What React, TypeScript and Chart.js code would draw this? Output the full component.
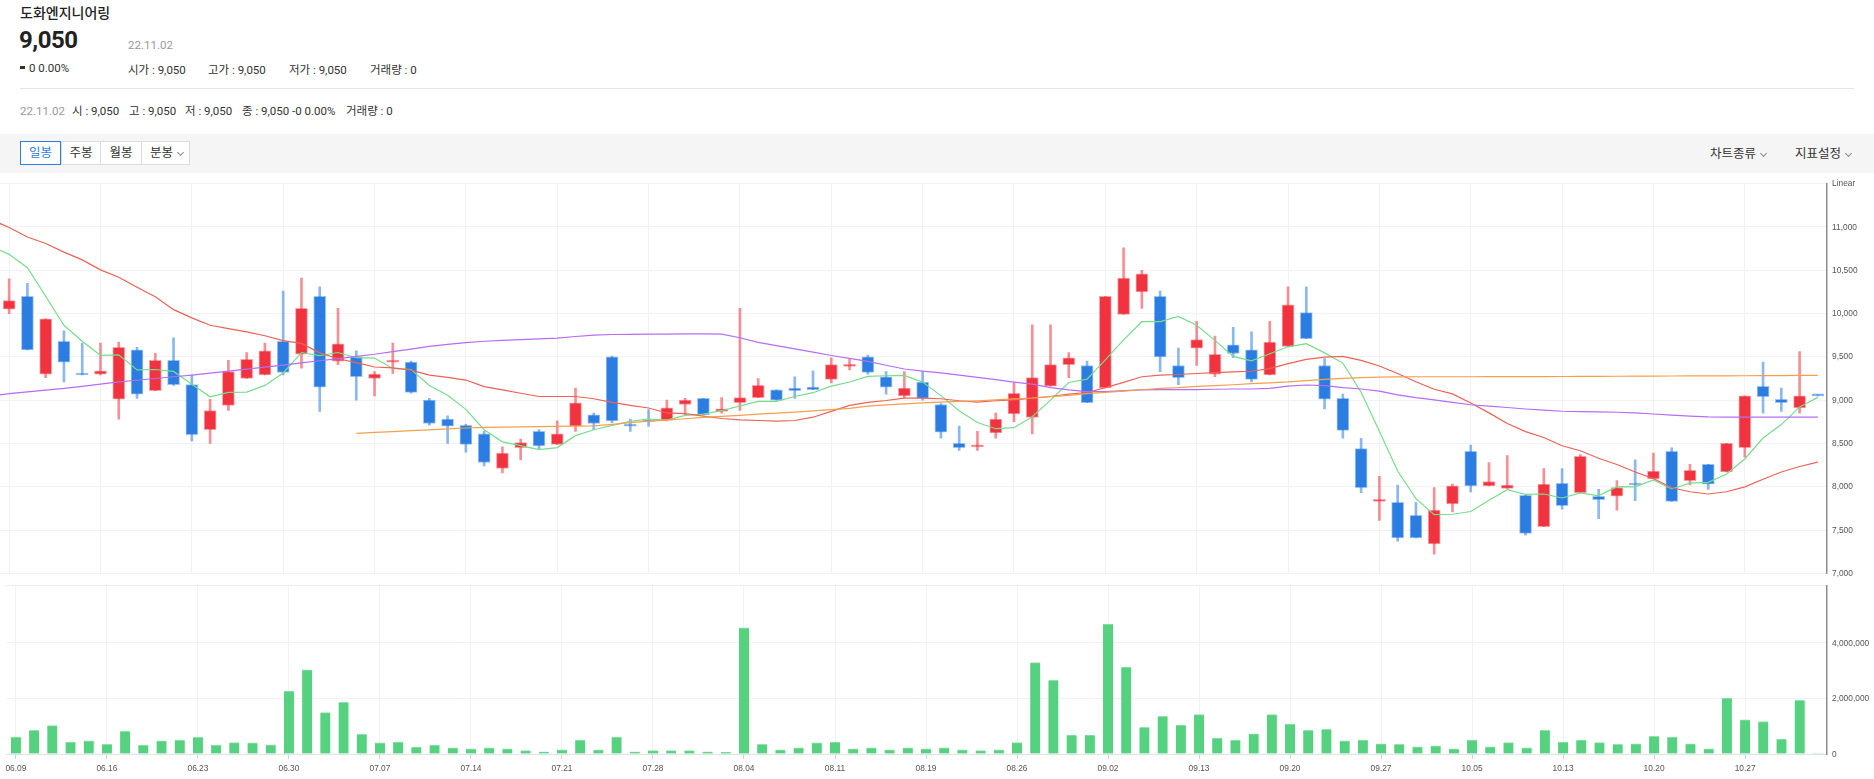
import React, { useEffect, useRef } from "react";
import { Chart, registerables } from "chart.js";
Chart.register(...registerables);

// ---- data ----
const tickLabels = ["06.09","06.16","06.23","06.30","07.07","07.14","07.21","07.28","08.04","08.11","08.19","08.26","09.02","09.13","09.20","09.27","10.05","10.13","10.20","10.27"];
const tickIndex = [0,5,10,15,20,25,30,35,40,45,50,55,60,65,70,75,80,85,90,95];

const open = [10050,10200,9300,9680,9300,9300,9010,9580,9110,9460,9180,8660,8940,9250,9290,9680,9530,10200,9450,9500,
9250,9440,9440,9000,8780,8710,8610,8210,8450,8640,8490,8700,8830,9500,8710,8770,8770,8950,9020,8870,
8970,9030,9120,9140,9150,9240,9390,9500,9270,9050,9210,8950,8500,8460,8620,8840,8800,9160,9410,9400,
9140,9990,10250,10200,9400,9600,9300,9640,9580,9290,9620,10010,9400,9020,8440,7830,7820,7670,7340,7800,
8410,8010,7980,7900,7540,8040,7930,7890,7890,8030,8090,8410,8070,8260,8170,8450,9160,9010,8910,9050];
const high = [10400,10350,9940,9800,9660,9660,9670,9610,9540,9720,9290,9010,9460,9550,9660,10260,10410,10310,10060,9570,
9330,9660,9450,9020,8820,8720,8640,8460,8550,8660,8760,9140,8850,9510,8780,8890,9000,9020,9020,9030,
10060,9250,9120,9270,9340,9490,9480,9520,9330,9330,9330,8960,8700,8640,8850,9200,9870,9870,9550,9450,
10200,10760,10500,10260,9600,9910,9740,9840,9790,9910,10310,10310,9480,9070,8560,8120,8020,7820,7990,8030,
8480,8280,8360,7900,8210,8210,8370,7970,8070,8310,8390,8450,8260,8260,8500,9050,9440,9140,9560,9050];
const low = [10000,9580,9260,9210,9290,9290,8780,9020,9110,9170,8530,8500,8880,9250,9290,9290,9370,8870,9410,9000,
9050,9310,9080,8710,8500,8400,8240,8160,8310,8440,8490,8640,8660,8740,8640,8700,8760,8830,8830,8850,
8880,9030,9000,9020,9120,9200,9350,9300,9070,9030,9000,8560,8420,8420,8560,8750,8610,9160,9260,8970,
9140,9990,10060,9330,9180,9400,9270,9490,9210,9290,9620,9710,8900,8560,7930,7610,7370,7410,7220,7710,
7940,8010,7980,7440,7540,7740,7930,7630,7730,7840,8090,7830,8020,7970,8170,8340,8850,8870,8850,9050];
const close = [10150,9580,9940,9440,9290,9340,9610,9070,9460,9180,8600,8880,9330,9470,9570,9320,10060,9150,9650,9270,
9300,9460,9090,8730,8700,8490,8280,8390,8510,8470,8610,8970,8730,8760,8700,8750,8910,9000,8830,8900,
9030,9170,9000,9110,9120,9410,9410,9320,9150,9140,9020,8630,8450,8470,8780,9080,9260,9410,9490,8970,
10200,10410,10460,9500,9260,9700,9530,9540,9240,9670,10100,9710,9010,8650,7990,7850,7410,7410,7730,8010,
8010,8060,8020,7460,8030,7780,8350,7850,7990,8020,8180,7830,8190,8030,8500,9050,9040,8970,9050,9050];
const volume = [610000,850000,1020000,430000,470000,350000,820000,320000,470000,500000,600000,320000,410000,400000,330000,2270000,3030000,1490000,1860000,710000,
400000,430000,250000,320000,220000,190000,220000,190000,120000,80000,150000,500000,150000,610000,80000,120000,120000,120000,80000,60000,
4540000,350000,150000,220000,400000,430000,190000,220000,150000,220000,190000,220000,150000,120000,150000,410000,3290000,2650000,680000,680000,
4680000,3130000,960000,1360000,1040000,1420000,570000,500000,730000,1420000,1080000,850000,890000,470000,500000,370000,350000,260000,290000,190000,
500000,260000,410000,220000,850000,430000,500000,410000,350000,370000,640000,610000,370000,190000,2010000,1230000,1170000,540000,1930000,0];

// moving averages: first value belongs to the previous trading day (06.08)
const ma5 = [10775,10684,10530,10200,9865,9680,9518,9524,9350,9354,9332,9184,9038,9090,9092,9170,9314,9550,9514,9550,9490,
9486,9366,9354,9170,9056,8894,8658,8518,8474,8428,8452,8590,8658,8708,8754,8782,8770,8824,8838,8878,
8934,8986,8986,9042,9086,9162,9210,9274,9282,9286,9208,9052,8878,8742,8670,8682,8808,9000,9204,9242,
9466,9696,9906,9908,9966,9866,9690,9506,9454,9536,9616,9652,9546,9428,9092,8642,8182,7862,7678,7682,
7714,7844,7966,7912,7916,7870,7928,7894,8000,7998,8078,7974,8042,8050,8146,8320,8562,8718,8922,9032];
const ma20 = [11086,10995,10885,10810,10710,10620,10505,10420,10305,10195,10045,9950,9865,9827,9789,9744,9687,9656,9546,9478,9433,
9383,9372,9346,9289,9262,9232,9156,9118,9080,9042,9042,9042,9016,8974,8940,8909,8852,8845,8815,8788,
8773,8765,8758,8765,8803,8871,8940,8974,8996,9023,9023,9016,8993,8978,8993,9004,9023,9042,9069,9088,
9145,9205,9270,9289,9296,9308,9319,9327,9334,9364,9421,9471,9497,9505,9459,9395,9308,9213,9126,9072,
8966,8853,8731,8636,8568,8473,8416,8329,8257,8170,8094,7988,7942,7916,7942,7999,8087,8170,8234,8284];
const ma60 = [9046,9076,9095,9115,9135,9160,9185,9210,9230,9250,9270,9290,9312,9335,9358,9382,9405,9430,9455,9480,9505,
9530,9560,9590,9620,9645,9665,9680,9690,9700,9708,9717,9735,9750,9758,9760,9762,9763,9765,9765,9762,
9721,9668,9630,9592,9554,9516,9482,9448,9403,9360,9336,9315,9289,9262,9236,9209,9186,9145,9118,9099,
9099,9110,9118,9122,9122,9122,9126,9129,9129,9137,9163,9175,9167,9145,9129,9105,9061,9030,9004,8975,
8947,8930,8915,8898,8885,8872,8868,8864,8860,8853,8840,8826,8815,8807,8805,8803,8803,8803,8803,8803];
const ma120 = [null,null,null,null,null,null,null,null,null,null,null,null,null,null,null,null,null,null,null,null,8617,
8627,8637,8647,8657,8668,8678,8685,8688,8692,8695,8698,8700,8703,8720,8740,8758,8770,8785,8800,8812,
8825,8838,8850,8862,8875,8890,8905,8930,8945,8958,8968,8978,8985,8993,9004,9015,9025,9040,9055,9075,
9090,9105,9120,9135,9145,9160,9168,9178,9190,9200,9210,9225,9240,9252,9260,9265,9268,9270,9270,9270,
9270,9271,9271,9272,9272,9273,9274,9275,9276,9277,9278,9279,9280,9280,9281,9282,9283,9284,9285,9285];

// ---- style ----
const UP = "#f0333f";
const DOWN = "#2b7de1";
const UP_WICK = "rgba(240,51,63,0.55)";
const DOWN_WICK = "rgba(43,125,225,0.55)";
const VOL = "#55d17f";
const AXIS_FONT = "'Liberation Sans', Arial, sans-serif";
const AXIS_SIZE = 9.5;
const CONDENSE = 0.88;
const TXT_FONT = "Roboto, 'Noto Sans CJK KR', sans-serif";
const GRID = "#f2f2f2";
const W = 1874;
const AXIS_W = 47;

const fmt = (v: number) => Number(v).toLocaleString("en-US");
const setTicks = (vals: number[]) => (s: any) => {
  s.ticks = vals.map((v) => ({ value: v }));
};

// axis labels in the original use a narrow face: squeeze Chart.js text horizontally while it draws
const condensePlugin = {
  id: "condenseText",
  beforeDraw(chart: any) {
    const ctx = chart.ctx;
    if (ctx.__origFill) return;
    const orig = ctx.fillText;
    ctx.__origFill = orig;
    ctx.fillText = function (t: string, x: number, y: number, mw?: number) {
      const w = this.measureText(t).width * CONDENSE;
      return orig.call(this, t, x, y, mw !== undefined ? Math.min(mw, w) : w);
    };
  },
  afterDraw(chart: any) {
    const ctx = chart.ctx;
    if (ctx.__origFill) {
      ctx.fillText = ctx.__origFill;
      delete ctx.__origFill;
    }
  },
};

function PriceChart() {
  const ref = useRef<HTMLCanvasElement>(null);
  useEffect(() => {
    const idx = close.map((_, i) => i);
    const isUp = (i: number) => close[i] > open[i];
    const maPts = (arr: (number | null)[]) => arr.map((v, k) => ({ x: k - 1, y: v }));
    const line = (label: string, arr: (number | null)[], color: string) => ({
      type: "line" as const,
      label,
      data: maPts(arr),
      borderColor: color,
      borderWidth: 1.2,
      pointRadius: 0,
      tension: 0,
      order: 0,
    });
    const chart = new Chart(ref.current!, {
      type: "bar",
      data: {
        datasets: [
          line("MA120", ma120, "#f3a04e"),
          line("MA60", ma60, "#b56df2"),
          line("MA20", ma20, "#ee6256"),
          line("MA5", ma5, "#78dc8c"),
          {
            type: "bar",
            label: "body",
            data: idx.map((i) => ({ x: i, y: [open[i], close[i]] })) as any,
            backgroundColor: idx.map((i) => (isUp(i) ? UP : DOWN)),
            borderColor: idx.map((i) => (isUp(i) ? "rgba(240,51,63,0.45)" : "rgba(43,125,225,0.45)")),
            borderWidth: 1,
            borderSkipped: false,
            barThickness: 12,
            minBarLength: 2,
            grouped: false,
            order: 1,
          },
          {
            type: "bar",
            label: "wick",
            data: idx.map((i) => ({ x: i, y: [low[i], high[i]] })) as any,
            backgroundColor: idx.map((i) => (isUp(i) ? UP_WICK : DOWN_WICK)),
            barThickness: 2,
            minBarLength: 1,
            grouped: false,
            order: 2,
          },
        ] as any,
      },
      options: {
        animation: false,
        responsive: false,
        maintainAspectRatio: false,
        events: [],
        layout: { padding: { top: 9, bottom: 7, left: 0, right: 0 } },
        plugins: { legend: { display: false }, tooltip: { enabled: false } },
        scales: {
          x: {
            type: "linear",
            min: -0.5,
            max: 99.5,
            offset: false,
            afterBuildTicks: setTicks(tickIndex),
            ticks: { display: false },
            grid: { color: GRID, drawTicks: false, offset: false },
            border: { display: false },
          },
          y: {
            position: "right",
            min: 7000,
            max: 11500,
            ticks: {
              stepSize: 500,
              padding: 5,
              color: "#555",
              font: { family: AXIS_FONT, size: AXIS_SIZE },
              callback: (v: any) => (v === 11500 ? "Linear" : fmt(v)),
            },
            grid: { color: GRID, drawTicks: false },
            border: { color: "#8c8c8c", width: 1.5 },
            afterFit: (s: any) => {
              s.width = AXIS_W;
            },
          },
        },
      } as any,
      plugins: [condensePlugin],
    });
    return () => chart.destroy();
  }, []);
  return (
    <canvas
      ref={ref}
      width={W}
      height={411}
      style={{ position: "absolute", left: 0, top: 173, width: W, height: 411 }}
    />
  );
}

function VolumeChart() {
  const ref = useRef<HTMLCanvasElement>(null);
  useEffect(() => {
    const idx = volume.map((_, i) => i);
    const chart = new Chart(ref.current!, {
      type: "bar",
      data: {
        datasets: [
          {
            label: "거래량",
            data: idx.map((i) => ({ x: i, y: volume[i] })) as any,
            backgroundColor: VOL,
            borderColor: "#8fe3aa",
            borderWidth: { top: 1, left: 0, right: 0, bottom: 0 } as any,
            barThickness: 10,
          },
        ],
      },
      options: {
        animation: false,
        responsive: false,
        maintainAspectRatio: false,
        events: [],
        layout: { padding: { top: 7, bottom: 0, left: 0, right: 0 } },
        plugins: { legend: { display: false }, tooltip: { enabled: false } },
        scales: {
          x: {
            type: "linear",
            min: -0.5,
            max: 99.5,
            offset: false,
            afterBuildTicks: setTicks(tickIndex),
            ticks: {
              autoSkip: false,
              maxRotation: 0,
              padding: 4,
              color: "#555",
              font: { family: AXIS_FONT, size: AXIS_SIZE },
              callback: (_v: any, k: number) => tickLabels[k],
            },
            grid: { color: GRID, tickColor: "#c9d4e6", tickLength: 5, offset: false },
            border: { color: "#dbe2ee" },
            afterFit: (s: any) => {
              s.height = 25;
            },
          },
          xTop: {
            type: "linear",
            position: "top",
            min: -0.5,
            max: 99.5,
            offset: false,
            ticks: { display: false },
            grid: { display: false, drawTicks: false },
            border: { color: "#ececec" },
            afterFit: (s: any) => {
              s.height = 0;
            },
          },
          y: {
            position: "right",
            min: 0,
            max: 6060000,
            afterBuildTicks: setTicks([0, 2000000, 4000000]),
            ticks: {
              padding: 5,
              color: "#555",
              font: { family: AXIS_FONT, size: AXIS_SIZE },
              callback: (v: any) => fmt(v),
            },
            grid: { color: GRID, drawTicks: false },
            border: { color: "#8c8c8c", width: 1.5 },
            afterFit: (s: any) => {
              s.width = AXIS_W;
            },
          },
        },
      } as any,
      plugins: [condensePlugin],
    });
    return () => chart.destroy();
  }, []);
  return (
    <canvas
      ref={ref}
      width={W}
      height={204}
      style={{ position: "absolute", left: 0, top: 575, width: W, height: 204 }}
    />
  );
}

const abs = (left: number, top: number, size: number, lh: number, extra: React.CSSProperties = {}): React.CSSProperties => ({
  position: "absolute",
  left,
  top,
  fontSize: size,
  lineHeight: `${lh}px`,
  whiteSpace: "nowrap",
  fontFamily: TXT_FONT,
  color: "#333",
  ...extra,
});

function Chevron({ left, top }: { left: number; top: number }) {
  return (
    <span
      style={{
        position: "absolute",
        left,
        top,
        width: 4,
        height: 4,
        borderRight: "1px solid #8a8a8a",
        borderBottom: "1px solid #8a8a8a",
        transform: "rotate(45deg)",
      }}
    />
  );
}

function Btn({ left, width, label, active, chevron }: { left: number; width: number; label: string; active?: boolean; chevron?: boolean }) {
  return (
    <div
      style={{
        position: "absolute",
        left,
        top: 141,
        width,
        height: 24,
        boxSizing: "border-box",
        border: `1px solid ${active ? "#2b7de1" : "#dcdcdc"}`,
        background: "#fff",
        zIndex: active ? 2 : 1,
        fontFamily: TXT_FONT,
        fontSize: 12.5,
        lineHeight: "22px",
        color: active ? "#2b7de1" : "#333",
        textAlign: chevron ? "left" : "center",
        paddingLeft: chevron ? 8 : 0,
      }}
    >
      {label}
      {chevron && <Chevron left={36} top={8} />}
    </div>
  );
}

export default function App() {
  const ohlcTop = [
    { x: 128, t: "시가 : 9,050" },
    { x: 208, t: "고가 : 9,050" },
    { x: 289, t: "저가 : 9,050" },
    { x: 370, t: "거래량 : 0" },
  ];
  const row2 = [
    { x: 72, t: "시 : 9,050" },
    { x: 129, t: "고 : 9,050" },
    { x: 185, t: "저 : 9,050" },
    { x: 242, t: "종 : 9,050 -0 0.00%" },
    { x: 346, t: "거래량 : 0" },
  ];
  return (
    <div
      style={{
        position: "fixed",
        left: 0,
        top: 0,
        width: W,
        height: 779,
        overflow: "hidden",
        background: "#fff",
      }}
    >
      <div style={abs(20, 4, 14, 18, { color: "#222", fontWeight: 500 })}>도화엔지니어링</div>
      <div style={abs(19, 26, 24, 28, { color: "#222", fontWeight: 700, letterSpacing: -0.5 })}>9,050</div>
      <div style={abs(128, 36.5, 11.5, 16, { color: "#999" })}>22.11.02</div>
      <span style={{ position: "absolute", left: 20, top: 66, width: 5, height: 3, background: "#333" }} />
      <div style={abs(29, 59.5, 11.5, 16)}>0 0.00%</div>
      {ohlcTop.map((o) => (
        <div key={o.t} style={abs(o.x, 61.5, 11.5, 16)}>
          {o.t}
        </div>
      ))}
      <div style={{ position: "absolute", left: 20, top: 88, width: 1834, height: 1, background: "#e4e4e4" }} />
      <div style={abs(20, 103, 11.5, 16, { color: "#999" })}>22.11.02</div>
      {row2.map((o) => (
        <div key={o.t} style={abs(o.x, 103, 11.5, 16)}>
          {o.t}
        </div>
      ))}
      <div style={{ position: "absolute", left: 0, top: 134, width: W, height: 39, background: "#f5f5f5" }} />
      <Btn left={61} width={40} label="주봉" />
      <Btn left={100} width={42} label="월봉" />
      <Btn left={141} width={49} label="분봉" chevron />
      <Btn left={20} width={41} label="일봉" active />
      <div style={abs(1710, 146, 12.5, 16)}>차트종류</div>
      <Chevron left={1761} top={151} />
      <div style={abs(1795, 146, 12.5, 16)}>지표설정</div>
      <Chevron left={1846} top={151} />
      <PriceChart />
      <VolumeChart />
    </div>
  );
}
